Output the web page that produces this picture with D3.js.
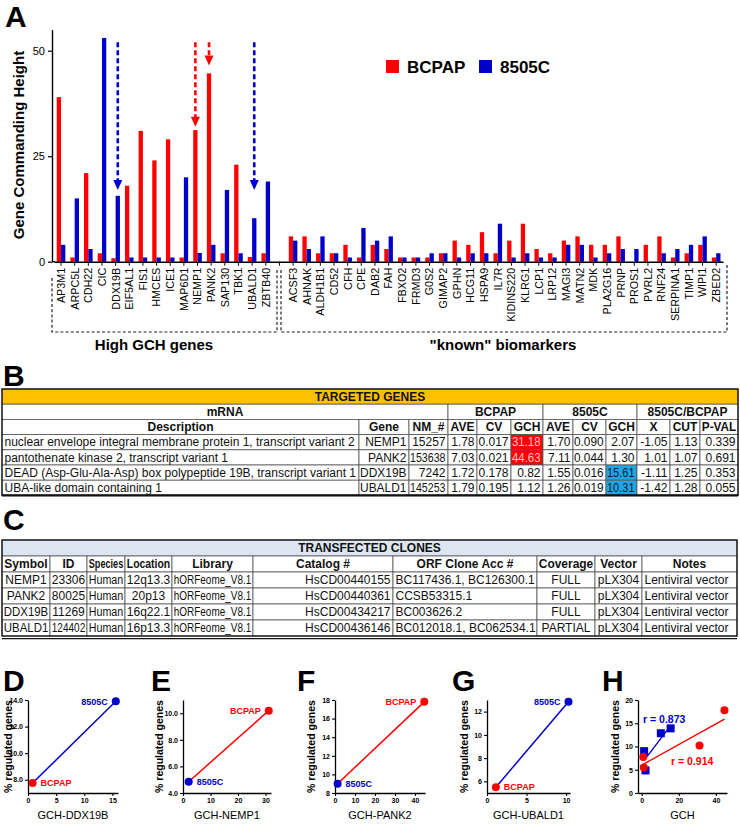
<!DOCTYPE html>
<html><head><meta charset="utf-8">
<script src="https://cdn.jsdelivr.net/npm/d3@7"></script>
<style>
html,body{margin:0;padding:0;background:#fff;}
svg{display:block;font-family:"Liberation Sans",Arial,Helvetica,sans-serif;}
</style></head><body>
<svg id="fig" width="740" height="828"></svg>
<script>
// ---------------- DATA ----------------
const seriesNames = ["BCPAP", "8505C"];
const highGenes = ["AP3M1","ARPC5L","CDH22","CIC","DDX19B","EIF5AL1","FIS1","HMCES","ICE1","MAP6D1","NEMP1","PANK2","SAP130","TBK1","UBALD1","ZBTB40"];
const highBCPAP = [39, 1, 21, 2, 0.82, 18, 31, 24, 29, 1, 31.18, 44.63, 2, 23, 1.12, 2];
const high8505C = [4, 15, 3, 53, 15.61, 1, 1, 1, 1, 20, 2.07, 4, 17, 2, 10.31, 19];
const knownGenes = ["ACSF3","AHNAK","ALDH1B1","CD52","CFH","CPE","DAB2","FAH","FBXO2","FRMD3","G0S2","GIMAP2","GPHN","HCG11","HSPA9","IL7R","KIDINS220","KLRG1","LCP1","LRP12","MAGI3","MATN2","MDK","PLA2G16","PRNP","PROS1","PVRL2","RNF24","SERPINA1","TIMP1","WIPI1","ZBED2"];
const knownBCPAP = [6, 6, 2, 2, 4, 1, 4, 3, 1, 1, 1, 2, 5, 4, 7, 2, 5, 9, 3, 2, 5, 6, 4, 4, 6, 0, 4, 6, 1, 2, 4, 1];
const known8505C = [5, 3, 6, 2, 1, 8, 5, 6, 1, 1, 2, 2, 1, 2, 2, 9, 1, 2, 1, 1, 4, 4, 1, 2, 3, 3, 0, 2, 3, 4, 6, 2];
const yTicksA = [0, 25, 50];
const groupLabels = ["High GCH genes", "\"known\" biomarkers"];
const arrowGenes = ["DDX19B", "NEMP1", "PANK2", "UBALD1"];
const arrowSeries = ["8505C", "BCPAP", "BCPAP", "8505C"];
const arrowTips = [17, 32, 46.5, 17];
const arrowStart = 52;

const targetedTitle = "TARGETED GENES";
const targetedGroups = ["mRNA", "BCPAP", "8505C", "8505C/BCPAP"];
const targetedHeader = ["Description","Gene","NM_#","AVE","CV","GCH","AVE","CV","GCH","X","CUT","P-VAL"];
const targetedRows = [
 ["nuclear envelope integral membrane protein 1, transcript variant 2","NEMP1","15257","1.78","0.017","31.18","1.70","0.090","2.07","-1.05","1.13","0.339"],
 ["pantothenate kinase 2, transcript variant 1","PANK2","153638","7.03","0.021","44.63","7.11","0.044","1.30","1.01","1.07","0.691"],
 ["DEAD (Asp-Glu-Ala-Asp) box polypeptide 19B, transcript variant 1","DDX19B","7242","1.72","0.178","0.82","1.55","0.016","15.61","-1.11","1.25","0.353"],
 ["UBA-like domain containing 1","UBALD1","145253","1.79","0.195","1.12","1.26","0.019","10.31","-1.42","1.28","0.055"]
];
const cloneTitle = "TRANSFECTED CLONES";
const cloneHeader = ["Symbol","ID","Species","Location","Library","Catalog #","ORF Clone Acc #","Coverage","Vector","Notes"];
const cloneRows = [
 ["NEMP1","23306","Human","12q13.3","hORFeome_V8.1","HsCD00440155","BC117436.1, BC126300.1","FULL","pLX304","Lentiviral vector"],
 ["PANK2","80025","Human","20p13","hORFeome_V8.1","HsCD00440361","CCSB53315.1","FULL","pLX304","Lentiviral vector"],
 ["DDX19B","11269","Human","16q22.1","hORFeome_V8.1","HsCD00434217","BC003626.2","FULL","pLX304","Lentiviral vector"],
 ["UBALD1","124402","Human","16p13.3","hORFeome_V8.1","HsCD00436146","BC012018.1, BC062534.1","PARTIAL","pLX304","Lentiviral vector"]
];

const scatterGenes = ["DDX19B", "NEMP1", "PANK2", "UBALD1"];
const gchBCPAP = [0.82, 31.18, 44.63, 1.12];
const gch8505C = [15.61, 2.07, 1.30, 10.31];
const pctBCPAP = [7.75, 10.2, 17.8, 5.5];
const pct8505C = [13.9, 4.85, 9.0, 12.85];
const rLabels = ["r = 0.873", "r = 0.914"];
const yLabelSmall = "% regulated genes";

// ---------------- STYLE ----------------
const RED = "#ff0000", BLUE = "#0000c8";
const svg = d3.select("#fig");

function letter(t, x, y) {
  svg.append("text").attr("x", x).attr("y", y).text(t)
    .attr("font-size", 30).attr("font-weight", "bold").attr("fill", "#000");
}

// ---------------- PANEL A ----------------
letter("A", 5, 27);
const GAP = "__gap";
const cats = highGenes.concat([GAP], knownGenes);
const valB = highBCPAP.concat([null], knownBCPAP);
const valC = high8505C.concat([null], known8505C);
const x = d3.scaleBand().domain(cats).range([54.2, 723]).padding(0);
const y = d3.scaleLinear().domain([0, 55]).range([261.7, 29.6]);
const bw = 4.3;

const gA = svg.append("g");
cats.forEach((c, i) => {
  if (c === GAP) return;
  const cx = x(c) + x.bandwidth() / 2;
  gA.append("rect").attr("x", cx - bw).attr("width", bw)
    .attr("y", y(valB[i])).attr("height", y(0) - y(valB[i])).attr("fill", RED);
  gA.append("rect").attr("x", cx).attr("width", bw)
    .attr("y", y(valC[i])).attr("height", y(0) - y(valC[i])).attr("fill", BLUE);
});

// y axis
const yAx = svg.append("g").attr("transform", "translate(52,0)")
  .call(d3.axisLeft(y).tickValues(yTicksA).tickSize(4).tickSizeOuter(0));
yAx.select(".domain").attr("stroke-width", 1.4);
yAx.selectAll(".tick line").attr("stroke-width", 1.2);
yAx.selectAll("text").attr("font-size", 11).attr("font-family", "Liberation Sans, Arial").attr("fill", "#000");
svg.append("text").attr("transform", "translate(24,145) rotate(-90)")
  .attr("text-anchor", "middle").attr("font-size", 15).attr("font-weight", "bold")
  .text("Gene Commanding Height");

// x axis
const xAx = svg.append("g").attr("transform", `translate(0,${y(0)})`)
  .call(d3.axisBottom(x).tickSize(4).tickSizeOuter(0).tickFormat(d => d === GAP ? "" : d));
xAx.select(".domain").attr("stroke-width", 1.4);
xAx.selectAll(".tick line").attr("stroke-width", 1);
xAx.selectAll("text")
  .attr("font-size", 10.8).attr("font-family", "Liberation Sans, Arial").attr("fill", "#000")
  .attr("transform", "rotate(-90)").attr("text-anchor", "end")
  .attr("x", -6).attr("y", 0).attr("dy", "0.36em");
svg.append("line").attr("x1", 52).attr("x2", 55).attr("y1", y(0)).attr("y2", y(0))
  .attr("stroke", "#000").attr("stroke-width", 1.4);

// arrows
arrowGenes.forEach((g, i) => {
  const cx = x(g) + x.bandwidth() / 2 + (arrowSeries[i] === "BCPAP" ? -bw / 2 : bw / 2);
  const col = arrowSeries[i] === "BCPAP" ? RED : BLUE;
  const tip = y(arrowTips[i]);
  svg.append("line").attr("x1", cx).attr("x2", cx).attr("y1", y(arrowStart)).attr("y2", tip - 8)
    .attr("stroke", col).attr("stroke-width", 2.6).attr("stroke-dasharray", "5,3");
  svg.append("path").attr("d", `M${cx - 4.5},${tip - 10}L${cx + 4.5},${tip - 10}L${cx},${tip}Z`).attr("fill", col);
});

// legend
[[RED, seriesNames[0], 386], [BLUE, seriesNames[1], 479]].forEach(([c, t, lx]) => {
  svg.append("rect").attr("x", lx).attr("y", 60).attr("width", 13).attr("height", 13).attr("fill", c);
  svg.append("text").attr("x", lx + 21).attr("y", 73).attr("font-size", 17).attr("font-weight", "bold").text(t);
});

// brackets
const dash = "3,2.2";
const brk = (d) => svg.append("path").attr("d", d).attr("fill", "none").attr("stroke", "#222")
  .attr("stroke-width", 1.2).attr("stroke-dasharray", dash);
brk("M52,278 V332 H277 V270");
brk("M281,270 V332 H727 V263");
svg.append("text").attr("x", 154).attr("y", 350).attr("text-anchor", "middle")
  .attr("font-size", 15).attr("font-weight", "bold").text(groupLabels[0]);
svg.append("text").attr("x", 503).attr("y", 350).attr("text-anchor", "middle")
  .attr("font-size", 15).attr("font-weight", "bold").text(groupLabels[1]);

// ---------------- TABLES ----------------
function drawTable(top, rowHs, colX, rows, opt) {
  const TF = opt.fontSize;
  const g = svg.append("g").attr("font-size", TF).attr("font-family", "Liberation Sans, Arial");
  let yy = top;
  const texts = [];
  rows.forEach((row, ri) => {
    const h = rowHs[ri];
    row.forEach(cell => {
      const x0 = colX[cell.c0], x1 = colX[cell.c1];
      g.append("rect").attr("x", x0).attr("y", yy).attr("width", x1 - x0).attr("height", h)
        .attr("fill", cell.fill || "#fff").attr("stroke", "#555").attr("stroke-width", 0.8);
      if (cell.text !== undefined && cell.text !== "") texts.push({cell, x0, x1, yy, h});
    });
    yy += h;
  });
  texts.forEach(({cell, x0, x1, yy, h}) => {
    let tx, anchor;
    if (cell.align === "left") { tx = x0 + 2.5; anchor = "start"; }
    else if (cell.align === "right") { tx = x1 - 2.5; anchor = "end"; }
    else { tx = (x0 + x1) / 2; anchor = "middle"; }
    const ty = yy + h / 2 + 4.2;
    const t = g.append("text").attr("x", 0).attr("y", 0)
      .attr("text-anchor", anchor).attr("font-weight", cell.bold ? "bold" : "normal")
      .attr("fill", cell.color || "#111").text(cell.text);
    const avail = x1 - x0 - 3.5;
    const w = t.node().getComputedTextLength();
    const sx = w > avail ? avail / w : 1;
    t.attr("transform", `translate(${tx},${ty}) scale(${sx.toFixed(3)},1)`);
  });
  g.append("rect").attr("x", colX[0]).attr("y", top).attr("width", colX[colX.length - 1] - colX[0])
    .attr("height", yy - top).attr("fill", "none").attr("stroke", "#111").attr("stroke-width", 1.3);
  if (opt.double) {
    g.append("line").attr("x1", colX[0]).attr("x2", colX[colX.length - 1]).attr("y1", yy + 2.6).attr("y2", yy + 2.6)
      .attr("stroke", "#111").attr("stroke-width", 1.2);
  }
  if (opt.thickBottom) {
    g.append("line").attr("x1", colX[0]).attr("x2", colX[colX.length - 1]).attr("y1", yy).attr("y2", yy)
      .attr("stroke", "#111").attr("stroke-width", 2.2);
  }
  return yy;
}

// Panel B
letter("B", 3, 386);
const colB = [2, 359, 409, 448, 477, 511, 543, 573, 606, 637, 670, 700, 738];
const alignB = ["left","right","right","right","right","right","right","right","right","right","right","right"];
const rowsB = [];
rowsB.push([{c0: 0, c1: 12, text: targetedTitle, bold: true, fill: "#ffc000"}]);
rowsB.push([{c0: 0, c1: 3, text: targetedGroups[0], bold: true}, {c0: 3, c1: 6, text: targetedGroups[1], bold: true},
            {c0: 6, c1: 9, text: targetedGroups[2], bold: true}, {c0: 9, c1: 12, text: targetedGroups[3], bold: true}]);
rowsB.push(targetedHeader.map((t, i) => ({c0: i, c1: i + 1, text: t, bold: true})));
targetedRows.forEach((r, ri) => {
  rowsB.push(r.map((t, i) => {
    const cell = {c0: i, c1: i + 1, text: t, align: alignB[i]};
    if (i === 5 && ri < 2) { cell.fill = "#ff0000"; cell.color = "#ffc4c4"; }
    if (i === 8 && ri >= 2) { cell.fill = "#1fa6e0"; cell.color = "#102040"; }
    return cell;
  }));
});
drawTable(389, [15.2, 15.2, 15.2, 15.2, 15.2, 15.2, 15.2], colB, rowsB, {thickBottom: true, fontSize: 12});

// Panel C
letter("C", 3, 530);
const colC = [2, 50, 87, 125, 172, 253, 393, 537, 595, 642, 737];
const alignC = ["center","center","center","center","center","right","left","center","center","left"];
const rowsC = [];
rowsC.push([{c0: 0, c1: 10, text: cloneTitle, bold: true, fill: "#dce6f1"}]);
rowsC.push(cloneHeader.map((t, i) => ({c0: i, c1: i + 1, text: t, bold: true})));
cloneRows.forEach(r => rowsC.push(r.map((t, i) => ({c0: i, c1: i + 1, text: t, align: alignC[i]}))));
drawTable(540, [16, 16, 16, 16, 16, 16], colC, rowsC, {double: true, fontSize: 12});

// ---------------- PANELS D-H ----------------
const panelLetters = ["D", "E", "F", "G", "H"];
const letterX = [3, 151, 297, 452, 602];
panelLetters.forEach((l, i) => letter(l, letterX[i], 691));

const plotTop = 700, plotBottom = 793, titleY = 819;
const smallCfg = [
  {left: 28, right: 118, yDom: [7, 14], yT: [8, 10, 12, 14], xDom: [0, 16], xT: [0, 5, 10, 15], lineCol: BLUE, ylx: 12},
  {left: 183, right: 271, yDom: [4, 11], yT: [4, 6, 8, 10], xDom: [0, 32], xT: [0, 10, 20, 30], lineCol: RED, ylx: 163},
  {left: 335, right: 425, yDom: [8, 18], yT: [8, 10, 12, 14, 16, 18], xDom: [0, 45], xT: [0, 10, 20, 30, 40], lineCol: RED, ylx: 315},
  {left: 487, right: 570, yDom: [5, 13], yT: [6, 8, 10, 12], xDom: [0, 10.5], xT: [0, 5, 10], lineCol: BLUE, ylx: 468}
];

function axesSmall(cfg) {
  const xs = d3.scaleLinear().domain(cfg.xDom).range([cfg.left, cfg.right]);
  const ys = d3.scaleLinear().domain(cfg.yDom).range([plotBottom, plotTop]);
  const ga = svg.append("g").attr("transform", `translate(0,${plotBottom})`)
    .call(d3.axisBottom(xs).tickValues(cfg.xT).tickSize(3).tickSizeOuter(0));
  const gb = svg.append("g").attr("transform", `translate(${cfg.left},0)`)
    .call(d3.axisLeft(ys).tickValues(cfg.yT).tickSize(3).tickSizeOuter(0));
  [ga, gb].forEach(g => {
    g.select(".domain").attr("stroke-width", 1.3);
    g.selectAll(".tick line").attr("stroke-width", 1.1);
    g.selectAll("text").attr("font-size", 7).attr("font-weight", "bold").attr("fill", "#000")
      .attr("font-family", "Liberation Sans, Arial");
  });
  ga.selectAll("text").attr("y", 5);
  gb.selectAll("text").attr("x", -5);
  svg.append("text").attr("transform", `translate(${cfg.ylx},${(plotTop + plotBottom) / 2}) rotate(-90)`)
    .attr("text-anchor", "middle").attr("font-size", 10.5).attr("font-weight", "bold").text(yLabelSmall);
  return {xs, ys};
}

smallCfg.forEach((cfg, i) => {
  const {xs, ys} = axesSmall(cfg);
  const pB = [xs(gchBCPAP[i]), ys(pctBCPAP[i])];
  const pC = [xs(gch8505C[i]), ys(pct8505C[i])];
  svg.append("line").attr("x1", pB[0]).attr("y1", pB[1]).attr("x2", pC[0]).attr("y2", pC[1])
    .attr("stroke", cfg.lineCol).attr("stroke-width", 1.5);
  svg.append("circle").attr("cx", pB[0]).attr("cy", pB[1]).attr("r", 4).attr("fill", RED);
  svg.append("circle").attr("cx", pC[0]).attr("cy", pC[1]).attr("r", 4).attr("fill", BLUE);
  const pts = [[pB, RED, seriesNames[0]], [pC, BLUE, seriesNames[1]]];
  pts.forEach(([p, col, name]) => {
    const other = p === pB ? pC : pB;
    const high = p[1] < other[1];
    svg.append("text").attr("x", high ? p[0] - 8 : p[0] + 8).attr("y", p[1] + 3.3)
      .attr("text-anchor", high ? "end" : "start").attr("font-size", 9).attr("font-weight", "bold")
      .attr("fill", col).text(name);
  });
  svg.append("text").attr("x", (cfg.left + cfg.right) / 2).attr("y", titleY).attr("text-anchor", "middle")
    .attr("font-size", 11).text("GCH-" + scatterGenes[i]);
});

// Panel H
(function () {
  const cfg = {left: 638, right: 727, yDom: [0, 20], yT: [0, 5, 10, 15, 20], xDom: [-2, 46], xT: [0, 20, 40], ylx: 619};
  const {xs, ys} = axesSmall(cfg);
  function fit(xv, yv) {
    const mx = d3.mean(xv), my = d3.mean(yv);
    const sxy = d3.sum(xv, (v, i) => (v - mx) * (yv[i] - my));
    const sxx = d3.sum(xv, v => (v - mx) * (v - mx));
    const b = sxy / sxx;
    return {b, a: my - b * mx, x0: d3.min(xv), x1: d3.max(xv)};
  }
  const fC = fit(gch8505C, pct8505C), fB = fit(gchBCPAP, pctBCPAP);
  [[fC, BLUE], [fB, RED]].forEach(([f, col]) => {
    svg.append("line").attr("x1", xs(f.x0)).attr("y1", ys(f.a + f.b * f.x0))
      .attr("x2", xs(f.x1)).attr("y2", ys(f.a + f.b * f.x1)).attr("stroke", col).attr("stroke-width", 1.4);
  });
  gch8505C.forEach((v, i) => svg.append("rect").attr("x", xs(v) - 4).attr("y", ys(pct8505C[i]) - 4)
    .attr("width", 8).attr("height", 8).attr("fill", BLUE));
  gchBCPAP.forEach((v, i) => svg.append("circle").attr("cx", xs(v)).attr("cy", ys(pctBCPAP[i])).attr("r", 4).attr("fill", RED));
  svg.append("text").attr("x", 643).attr("y", 723).attr("font-size", 10.5).attr("font-weight", "bold").attr("fill", BLUE).text(rLabels[0]);
  svg.append("text").attr("x", 671).attr("y", 765).attr("font-size", 10.5).attr("font-weight", "bold").attr("fill", RED).text(rLabels[1]);
  svg.append("text").attr("x", (cfg.left + cfg.right) / 2).attr("y", titleY).attr("text-anchor", "middle")
    .attr("font-size", 11).text("GCH");
})();
</script>
</body></html>
